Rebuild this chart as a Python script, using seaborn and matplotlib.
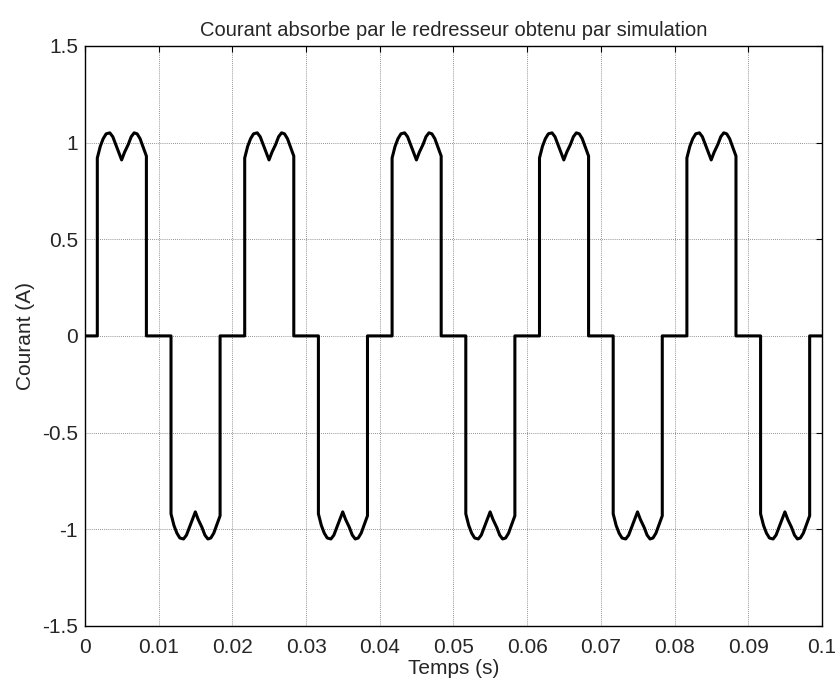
import numpy as np
import pandas as pd
import matplotlib
matplotlib.use("Agg")
import matplotlib.pyplot as plt
import seaborn as sns

# Conduction intervals of each current pulse (s) and their polarity
pulse_start = [0.00167, 0.01167, 0.02167, 0.03167, 0.04167, 0.05167, 0.06167, 0.07167, 0.08167, 0.09167]
pulse_end = [0.00833, 0.01833, 0.02833, 0.03833, 0.04833, 0.05833, 0.06833, 0.07833, 0.08833, 0.09833]
pulse_sign = [1, -1, 1, -1, 1, -1, 1, -1, 1, -1]

# Crest of one pulse: time after its start (s) and magnitude (A)
crest_dt = [0.0, 0.0004, 0.0008, 0.0012, 0.0017, 0.0021, 0.0025, 0.0029,
            0.0033, 0.0037, 0.0042, 0.0046, 0.0050, 0.0054, 0.0058, 0.00666]
crest_i = [0.92, 0.98, 1.02, 1.045, 1.05, 1.03, 0.99, 0.95,
           0.91, 0.95, 0.99, 1.03, 1.05, 1.045, 1.02, 0.93]

t_end = 0.1

# Assemble the waveform: zero gaps between the pulses, vertical edges
t_pts, i_pts = [0.0], [0.0]
for s, e, sg in zip(pulse_start, pulse_end, pulse_sign):
    t_pts += [s]
    i_pts += [0.0]
    for dt, v in zip(crest_dt, crest_i):
        t_pts.append(s + dt)
        i_pts.append(sg * v)
    t_pts.append(e)
    i_pts.append(0.0)
t_pts.append(t_end)
i_pts.append(0.0)

df = pd.DataFrame({"Temps": t_pts, "Courant": i_pts})

sns.set_style("white")
plt.rcParams["font.family"] = ["Liberation Sans", "DejaVu Sans"]
plt.rcParams["axes.unicode_minus"] = False

fig = plt.figure(figsize=(8.35, 6.87), dpi=100)
ax = fig.add_axes([0.1018, 0.0888, 0.8826, 0.8445])

sns.lineplot(data=df, x="Temps", y="Courant", ax=ax, color="black",
             linewidth=2.2, sort=False, estimator=None)

ax.set_xlim(0, 0.1)
ax.set_ylim(-1.5, 1.5)
xt = np.round(np.arange(0, 0.1001, 0.01), 2)
ax.set_xticks(xt)
ax.set_xticklabels([f"{v:g}" for v in xt])
yt = [-1.5, -1, -0.5, 0, 0.5, 1, 1.5]
ax.set_yticks(yt)
ax.set_yticklabels([f"{v:g}" for v in yt])

ax.grid(True, color="#707070", linestyle=(0, (1, 1.5)), linewidth=0.6)
ax.tick_params(direction="in", length=4, width=0.8, top=True, right=True,
               labelsize=15, color="black")
ax.tick_params(axis="x", pad=9)
ax.tick_params(axis="y", pad=5)
for sp in ax.spines.values():
    sp.set_color("black")
    sp.set_linewidth(1.0)

ax.set_xlabel("Temps (s)", fontsize=15, labelpad=1)
ax.set_ylabel("Courant (A)", fontsize=15, labelpad=5)
ax.set_title("Courant absorbe par le redresseur obtenu par simulation", fontsize=14.5, pad=7)

fig.savefig("out.png", dpi=100, facecolor="white")
